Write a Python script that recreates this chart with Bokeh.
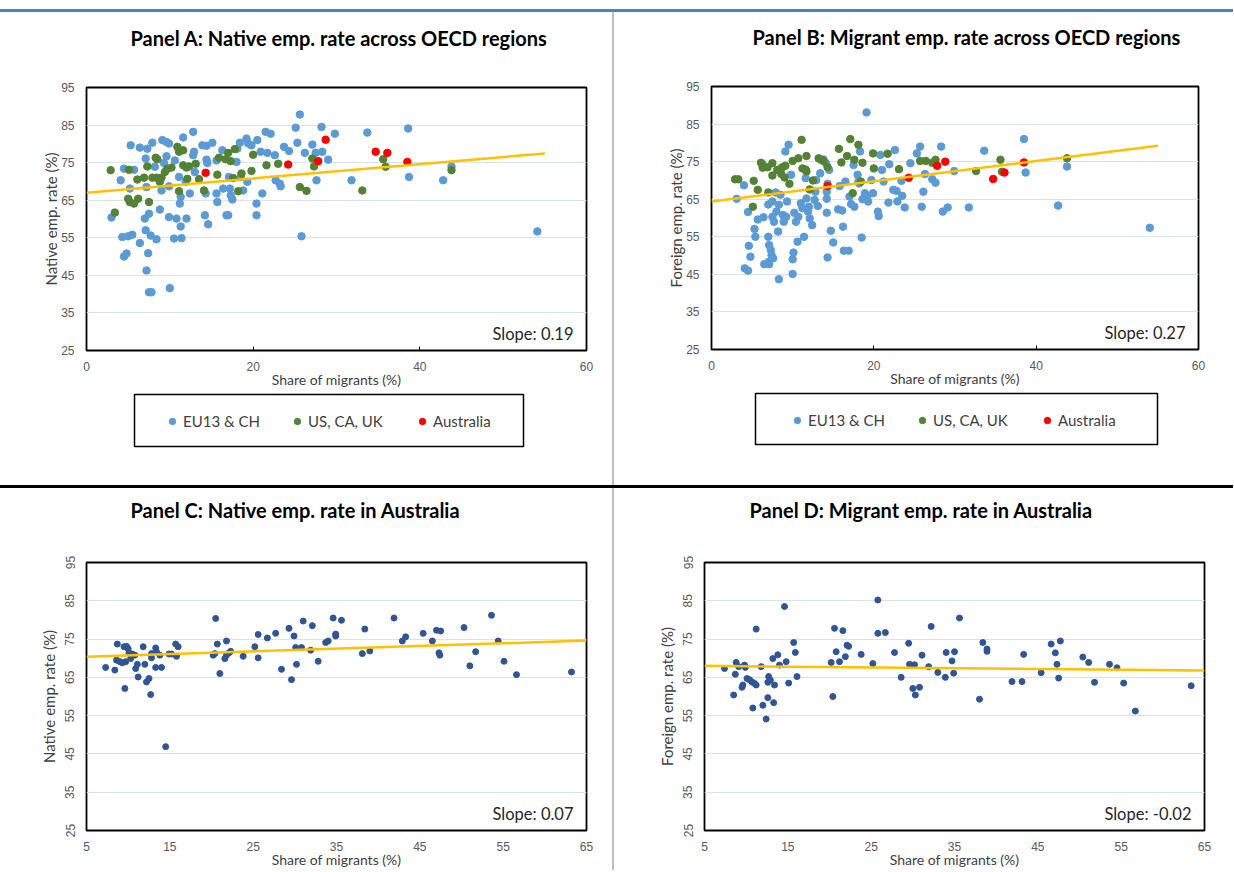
from bokeh.plotting import figure
from bokeh.models import Range1d, FixedTicker, Label, Legend, LegendItem, Div, Spacer, Title
from bokeh.layouts import column, row
from bokeh.embed import file_html
from bokeh.resources import INLINE

# ---------------- data ----------------
y_ticks = [25, 35, 45, 55, 65, 75, 85, 95]
x_ticks_oecd = [0, 20, 40, 60]
x_ticks_aus = [5, 15, 25, 35, 45, 55, 65]
legend_labels = ["EU13 & CH", "US, CA, UK", "Australia"]

# Panel A: native employment rate vs share of migrants (OECD regions)
a_eu_x = [3.0, 4.1, 4.5, 4.3, 5.0, 5.5, 4.5, 4.8, 5.3, 5.7, 5.2, 6.4, 6.4, 7.1, 7.3, 7.9, 7.2, 7.0, 7.5, 7.1,
          7.7, 8.4, 7.4, 7.2, 7.5, 7.8, 8.2, 9.1, 9.6, 9.9, 9.6, 9.3, 9.0, 8.8, 9.9, 10.8, 10.5, 11.4, 11.3, 10.0,
          9.9, 10.6, 11.1, 11.6, 11.2, 11.3, 12.0, 11.9, 12.4, 12.8, 12.9, 12.8, 13.0, 13.9, 14.4, 15.1, 14.4, 14.5, 14.3, 14.2,
          14.6, 15.6, 15.7, 15.6, 16.3, 16.4, 16.8, 17.0, 17.1, 17.2, 17.3, 17.5, 18.0, 18.1, 18.4, 19.2, 19.4, 19.8, 18.8, 19.3,
          18.5, 20.5, 20.4, 20.4, 21.1, 20.9, 21.7, 21.5, 22.1, 22.6, 22.7, 23.2, 23.3, 23.7, 24.3, 25.1, 25.3, 25.6, 25.8, 26.2,
          27.1, 27.6, 28.2, 28.3, 29.0, 29.8, 27.5, 33.7, 38.6, 31.8, 38.7, 42.8, 43.8, 54.1]
a_eu_y = [60.4, 70.3, 73.4, 55.2, 55.4, 55.8, 50.0, 50.8, 79.6, 73.1, 68.1, 53.6, 79.0, 76.1, 78.7, 80.3, 68.5, 60.1, 61.4, 57.0,
          55.6, 54.6, 50.9, 46.3, 40.5, 40.5, 73.9, 81.0, 80.5, 80.1, 76.7, 74.9, 67.6, 62.5, 60.5, 60.1, 54.8, 54.9, 58.0, 41.6,
          68.7, 75.6, 71.2, 81.7, 64.1, 65.9, 60.1, 69.9, 66.8, 83.2, 77.9, 77.0, 72.5, 79.6, 79.5, 80.3, 75.8, 74.9, 66.8, 61.0,
          58.6, 66.8, 64.5, 75.6, 78.3, 68.1, 61.0, 61.0, 71.2, 68.1, 66.3, 65.2, 75.2, 78.7, 80.3, 81.4, 80.1, 79.6, 67.6, 69.9,
          71.2, 81.0, 64.1, 61.0, 66.8, 77.9, 77.6, 83.2, 82.7, 77.0, 70.3, 69.4, 68.7, 79.2, 78.1, 84.3, 80.3, 87.8, 55.4, 77.6,
          79.8, 70.3, 84.5, 77.9, 75.8, 82.7, 77.6, 83.0, 84.1, 70.3, 71.2, 70.3, 74.0, 56.7]
a_us_x = [2.9, 3.4, 5.1, 5.0, 5.2, 5.7, 6.2, 6.1, 6.9, 7.3, 7.5, 7.9, 8.3, 8.5, 8.4, 8.8, 9.0, 9.4, 9.7, 10.2,
          10.9, 11.1, 11.6, 11.1, 11.6, 12.0, 12.3, 12.1, 13.1, 13.5, 14.1, 15.7, 15.9, 16.7, 17.0, 17.3, 17.8, 17.6, 18.2, 18.6,
          20.0, 19.8, 21.6, 23.0, 27.1, 27.3, 25.6, 26.4, 33.1, 35.6, 35.9, 43.8]
a_us_y = [73.0, 61.7, 73.1, 65.4, 64.5, 64.1, 65.4, 70.5, 71.0, 74.0, 64.5, 71.0, 76.3, 75.9, 71.0, 69.9, 71.0, 72.5, 73.4, 73.7,
          79.2, 77.9, 78.3, 67.4, 74.3, 73.7, 74.0, 70.7, 74.7, 70.6, 67.6, 71.8, 76.3, 75.9, 77.6, 75.4, 78.6, 70.9, 67.4, 72.1,
          77.1, 72.8, 74.3, 74.7, 76.1, 74.0, 68.5, 67.5, 67.6, 75.9, 73.9, 73.0]
a_au_x = [14.3, 24.2, 27.8, 28.7, 34.7, 36.1, 38.5]
a_au_y = [72.3, 74.5, 75.4, 81.1, 77.9, 77.6, 75.2]

# Panel B: migrant employment rate vs share of migrants (OECD regions)
b_eu_x = [3.1, 4.0, 4.5, 4.6, 4.8, 4.1, 4.5, 5.3, 5.4, 5.7, 6.3, 6.4, 6.5, 7.1, 7.1, 7.0, 7.1, 7.3, 7.4, 7.6,
          7.5, 7.7, 7.0, 7.5, 7.9, 8.0, 8.3, 8.2, 8.5, 8.3, 8.8, 8.9, 9.2, 9.3, 9.1, 9.5, 9.8, 10.0, 10.1, 10.0,
          10.2, 10.6, 10.4, 10.7, 11.0, 11.2, 11.4, 11.6, 11.7, 11.9, 12.0, 12.1, 12.4, 12.7, 12.8, 12.9, 13.1, 13.4, 13.8, 14.1,
          14.3, 14.2, 14.2, 14.2, 14.3, 14.5, 14.7, 15.0, 15.6, 15.8, 16.1, 16.2, 16.3, 16.5, 16.9, 17.0, 17.2, 17.5, 17.6, 18.0,
          18.1, 18.2, 18.3, 18.5, 18.6, 18.9, 19.1, 19.2, 19.3, 19.7, 19.9, 20.5, 20.6, 20.8, 21.0, 21.2, 21.8, 21.9, 22.4, 22.6,
          22.8, 22.9, 23.4, 23.5, 23.8, 24.5, 25.3, 25.7, 25.9, 26.1, 26.3, 27.2, 27.6, 28.3, 28.5, 29.1, 29.9, 31.7, 33.6, 38.5,
          38.7, 42.7, 43.8, 54.0]
b_eu_y = [65.1, 68.7, 61.6, 52.6, 49.7, 46.6, 46.0, 57.1, 55.0, 59.6, 74.3, 60.2, 47.7, 47.7, 48.4, 55.0, 52.8, 51.5, 50.1, 49.3,
          60.3, 59.0, 63.6, 64.4, 66.8, 61.7, 63.5, 56.4, 66.2, 43.7, 60.8, 59.0, 60.3, 64.4, 77.7, 79.5, 71.5, 49.0, 50.8, 45.1,
          61.4, 53.7, 59.0, 60.3, 63.9, 62.6, 55.0, 70.6, 65.2, 61.7, 63.0, 59.9, 58.1, 64.8, 67.0, 70.1, 63.2, 71.9, 75.6, 74.6,
          69.1, 67.0, 65.1, 61.4, 49.5, 72.8, 56.6, 53.5, 62.3, 68.5, 62.0, 57.7, 51.3, 69.7, 51.3, 65.7, 63.7, 74.1, 63.0, 71.5,
          69.7, 69.2, 77.7, 54.8, 65.0, 66.6, 88.1, 65.7, 64.4, 70.1, 66.6, 61.7, 60.5, 76.8, 72.8, 69.7, 64.1, 74.3, 67.5, 78.1,
          67.2, 64.4, 69.9, 65.9, 62.8, 74.6, 77.2, 79.0, 63.0, 67.0, 71.7, 70.3, 69.4, 79.0, 61.7, 62.8, 72.5, 62.8, 77.9, 81.0,
          72.1, 63.3, 73.7, 57.4]
b_us_x = [2.9, 3.3, 5.1, 5.2, 5.7, 6.1, 6.3, 6.9, 7.0, 7.5, 7.5, 8.1, 8.6, 8.7, 9.0, 9.1, 9.6, 10.0, 10.7, 11.1,
          11.2, 11.6, 11.7, 11.7, 12.1, 12.5, 13.2, 13.5, 13.8, 14.3, 15.7, 16.0, 16.7, 17.1, 17.4, 17.6, 18.1, 18.4, 18.6, 19.9,
          20.0, 21.7, 23.1, 25.7, 26.4, 27.2, 27.6, 32.6, 35.6, 35.8, 43.8]
b_us_y = [70.3, 70.3, 63.0, 69.9, 67.5, 74.7, 73.4, 73.5, 66.8, 74.6, 71.3, 72.8, 71.7, 73.5, 70.8, 73.9, 69.1, 75.2, 75.9, 80.8,
          73.2, 72.9, 72.4, 76.5, 67.6, 70.0, 75.9, 75.5, 75.2, 73.5, 78.4, 74.8, 76.5, 81.0, 66.6, 75.5, 79.5, 69.7, 74.7, 77.2,
          73.2, 77.1, 73.0, 75.2, 75.2, 74.7, 75.5, 72.5, 75.5, 72.3, 75.9]
b_au_x = [14.3, 24.3, 27.8, 28.8, 34.7, 36.1, 38.5]
b_au_y = [68.5, 70.7, 73.9, 75.0, 70.4, 72.1, 74.8]

# Panel C: native employment rate in Australian regions
c_x = [7.3, 8.4, 8.7, 8.6, 9.0, 9.3, 9.5, 9.8, 10.0, 9.6, 9.7, 10.1, 10.3, 10.5, 10.8, 10.9, 11.1, 11.2, 11.8, 12.0,
       12.2, 12.5, 12.7, 12.8, 12.8, 13.3, 13.4, 13.3, 14.0, 13.8, 14.5, 14.9, 15.2, 15.7, 16.0, 15.8, 20.5, 20.2, 20.4, 20.7,
       21.0, 21.6, 21.8, 21.8, 22.1, 22.3, 23.8, 25.2, 25.6, 25.6, 26.7, 27.7, 28.4, 29.3, 29.6, 29.9, 30.1, 30.2, 30.8, 31.0,
       31.9, 32.1, 32.8, 33.7, 34.0, 34.6, 34.9, 34.9, 35.6, 38.4, 38.1, 39.0, 41.9, 42.9, 43.3, 45.4, 46.5, 47.0, 47.5, 47.3,
       47.4, 50.3, 51.0, 51.7, 53.6, 54.4, 55.1, 56.6, 63.2]
c_y = [67.6, 66.9, 73.7, 69.5, 69.1, 68.8, 73.0, 73.1, 72.5, 62.1, 69.1, 71.4, 69.9, 71.1, 70.8, 67.3, 68.4, 65.1, 73.0, 68.4,
       63.8, 64.7, 60.5, 71.2, 70.1, 72.7, 71.7, 67.6, 67.6, 70.8, 46.9, 71.1, 71.1, 73.7, 73.0, 70.5, 80.4, 70.8, 71.2, 73.7,
       66.0, 69.9, 70.8, 74.5, 71.4, 71.8, 70.5, 73.0, 76.2, 70.1, 75.3, 76.5, 67.1, 77.8, 64.4, 75.8, 72.8, 68.4, 72.8, 79.7,
       72.1, 78.5, 69.2, 74.1, 74.5, 80.5, 76.3, 75.8, 79.9, 77.6, 71.2, 71.9, 80.5, 74.5, 75.6, 76.5, 74.5, 77.3, 77.1, 71.4,
       70.8, 78.0, 68.0, 71.7, 81.2, 74.5, 69.2, 65.7, 66.4]

# Panel D: migrant employment rate in Australian regions
d_x = [7.4, 8.5, 8.7, 8.8, 9.1, 9.5, 9.6, 9.8, 9.9, 10.1, 10.4, 10.7, 11.0, 11.2, 10.8, 11.2, 11.8, 12.0, 12.4, 12.6,
       12.7, 12.6, 12.9, 13.3, 13.4, 13.2, 13.8, 14.0, 14.6, 14.8, 15.1, 15.7, 15.9, 16.1, 20.2, 20.4, 20.6, 20.8, 21.2, 21.6,
       21.9, 22.1, 22.3, 23.8, 25.2, 25.8, 25.8, 26.7, 27.8, 28.6, 29.5, 29.6, 30.0, 30.2, 30.3, 30.8, 31.1, 31.9, 32.2, 33.0,
       33.9, 34.0, 34.7, 35.0, 34.9, 35.6, 38.0, 38.4, 38.9, 38.9, 41.9, 43.1, 43.3, 45.4, 46.6, 47.1, 47.3, 47.5, 47.7, 50.4,
       51.1, 51.8, 53.6, 54.5, 55.3, 56.7, 63.4]
d_y = [67.3, 60.4, 65.8, 68.9, 67.8, 62.4, 63.0, 68.2, 67.6, 64.7, 64.4, 63.8, 63.4, 63.0, 57.0, 77.6, 67.8, 57.7, 54.1, 59.7,
       65.2, 63.7, 64.3, 58.4, 63.0, 69.9, 70.9, 68.2, 83.5, 69.1, 63.5, 74.1, 71.5, 65.2, 68.9, 60.0, 77.8, 71.7, 69.1, 77.2,
       70.4, 73.4, 73.1, 71.0, 68.6, 76.5, 85.2, 76.7, 71.5, 65.0, 73.9, 68.4, 62.1, 68.3, 60.4, 62.4, 70.8, 67.8, 78.3, 66.3,
       65.0, 71.5, 69.3, 71.7, 66.1, 80.5, 59.3, 74.1, 72.4, 71.8, 63.9, 63.9, 71.0, 66.2, 73.7, 71.4, 68.4, 64.8, 74.5, 70.3,
       68.9, 63.7, 68.4, 67.5, 63.5, 56.2, 62.8]

# linear trends: (intercept, slope, x-span of the fitted line)
trend_a = (67.0, 0.19, [0, 55])
trend_b = (64.4, 0.27, [0, 55])
trend_c = (70.05, 0.07, [5, 65])
trend_d = (68.1, -0.02, [5, 65])

# ---------------- styling ----------------
C_EU = "#5b9bd5"
C_US = "#548235"
C_AU = "#ff0000"
C_AUS = "#2f5597"
C_TREND = "#ffc000"
TITLE_FONT = "Lato"
TEXT_FONT = "Lato"
TICK_FONT = "Liberation Sans"


def panel(title, title_offset, title_gap, ylabel, xr, xticks, fw, fh, bl, br, bt, bb, rotate_y, tick_in):
    p = figure(frame_width=fw, frame_height=fh, title=None,
               x_range=Range1d(*xr), y_range=Range1d(25, 95),
               min_border_left=bl, min_border_right=br, min_border_top=bt, min_border_bottom=bb,
               output_backend="svg", toolbar_location=None,
               background_fill_color="white", border_fill_color="white")
    # an empty gap panel between the frame and the heading, then the heading itself
    p.add_layout(Title(text=" ", text_font_size="1px", standoff=title_gap), "above")
    p.add_layout(Title(text=title, align="left", offset=title_offset, standoff=0,
                       text_font=TITLE_FONT, text_font_size="20px", text_font_style="bold",
                       text_color="#000000"), "above")
    p.outline_line_color = "#000000"
    p.outline_line_width = 1.8
    p.outline_line_alpha = 1.0
    p.xgrid.visible = False
    p.ygrid.grid_line_color = "#d9e2f0"
    p.ygrid.grid_line_width = 1
    p.xaxis.ticker = FixedTicker(ticks=xticks)
    p.yaxis.ticker = FixedTicker(ticks=y_ticks)
    for ax in (p.xaxis[0], p.yaxis[0]):
        ax.axis_line_color = None
        ax.minor_tick_line_color = None
        ax.major_tick_out = 0
        ax.major_label_text_font = TICK_FONT
        ax.major_label_text_font_size = "12px"
        ax.major_label_text_color = "#595959"
        ax.axis_label_text_font = TEXT_FONT
        ax.axis_label_text_font_style = "normal"
        ax.axis_label_text_color = "#404040"
    p.xaxis.axis_label_text_font_size = "14px"
    p.yaxis.axis_label_text_font_size = "15px"
    p.xaxis.major_tick_in = tick_in
    p.xaxis.major_tick_line_color = "#000000"
    p.yaxis.major_tick_in = 0
    p.yaxis.major_tick_line_color = None
    p.xaxis.axis_label = "Share of migrants (%)"
    p.xaxis.major_label_standoff = 11
    p.xaxis.axis_label_standoff = -3
    p.yaxis.axis_label = ylabel
    p.yaxis.major_label_standoff = 12
    p.yaxis.axis_label_standoff = -2
    if rotate_y:
        p.yaxis.major_label_orientation = "vertical"
        p.yaxis.major_label_standoff = 12
        p.yaxis.axis_label_standoff = 5
    return p


def add_trend(p, trend, fw):
    a, b, xs = trend
    p.line(x=xs, y=[a + b * x for x in xs], line_color=C_TREND, line_width=2.5)
    p.add_layout(Label(x=fw - 13, y=7, x_units="screen", y_units="screen",
                       text="Slope: %.2f" % b, text_align="right", text_baseline="bottom",
                       text_font=TEXT_FONT, text_font_size="16.5px", text_color="#262626"))


def legend_block(total_w, box_left, box_w, box_top, box_h, bottom, loc_x):
    lf = figure(frame_width=box_w, frame_height=box_h,
                min_border_left=2, min_border_right=total_w - box_left - box_w,
                min_border_top=box_top, min_border_bottom=bottom,
                x_range=Range1d(0, 1), y_range=Range1d(0, 1),
                x_axis_type=None, y_axis_type=None,
                output_backend="svg", toolbar_location=None,
                background_fill_color="white", border_fill_color="white")
    lf.grid.visible = False
    lf.outline_line_color = "#000000"
    lf.outline_line_width = 1.5
    items = []
    for lab, col in zip(legend_labels, [C_EU, C_US, C_AU]):
        r = lf.scatter(x=[float("nan")], y=[float("nan")], size=7, fill_color=col, line_color=col)
        items.append(LegendItem(label=lab, renderers=[r]))
    leg = Legend(items=items, orientation="horizontal", location=(loc_x, (box_h - 20) / 2),
                 padding=0, margin=0, border_line_color=None, background_fill_alpha=0,
                 glyph_width=16, glyph_height=16, label_standoff=3, label_width=80, spacing=26,
                 label_text_font=TEXT_FONT, label_text_font_size="15px", label_text_color="#404040")
    lf.add_layout(leg)
    return row(Spacer(width=box_left - 2, height=box_top + box_h + bottom), lf)


# Panel A
pA = panel("Panel A:  Native emp. rate across OECD regions", 44, 35, "Native emp. rate (%)",
           (0, 60), x_ticks_oecd, 500, 263, 86, 26, 75, 42, False, 4)
pA.scatter(a_eu_x, a_eu_y, size=7.5, fill_color=C_EU, line_color=C_EU)
pA.scatter(a_us_x, a_us_y, size=7.5, fill_color=C_US, line_color=C_US)
pA.scatter(a_au_x, a_au_y, size=7.5, fill_color=C_AU, line_color=C_AU)
add_trend(pA, trend_a, 500)
lA = legend_block(612, 134, 389, 2, 52, 39, 30)

# Panel B
pB = panel("Panel B: Migrant emp. rate across OECD regions", 41, 35, "Foreign emp. rate (%)",
           (0, 60), x_ticks_oecd, 487, 263, 97, 35, 74, 43, False, 4)
pB.scatter(b_eu_x, b_eu_y, size=7.5, fill_color=C_EU, line_color=C_EU)
pB.scatter(b_us_x, b_us_y, size=7.5, fill_color=C_US, line_color=C_US)
pB.scatter(b_au_x, b_au_y, size=7.5, fill_color=C_AU, line_color=C_AU)
add_trend(pB, trend_b, 487)
lB = legend_block(619, 141, 402, 1, 51, 41, 34)

# Panel C
pC = panel("Panel C:  Native emp. rate in Australia", 44, 38, "Native emp. rate (%)",
           (5, 65), x_ticks_aus, 500, 268, 86, 26, 73, 41, True, 0)
pC.scatter(c_x, c_y, size=6, fill_color=C_AUS, line_color=C_AUS)
add_trend(pC, trend_c, 500)

# Panel D
pD = panel("Panel D: Migrant emp. rate in Australia", 45, 38, "Foreign emp. rate (%)",
           (5, 65), x_ticks_aus, 500, 268, 90, 29, 74, 40, True, 0)
pD.scatter(d_x, d_y, size=6, fill_color=C_AUS, line_color=C_AUS)
add_trend(pD, trend_d, 500)

topgap = Spacer(width=1233, height=9)
topbar = Div(text="", width=1233, height=3, margin=0, styles={"background-color": "#4f81bd"})
vsep1 = Div(text="", width=2, height=473, margin=0, styles={"background-color": "#bfbfbf"})
hsep = Div(text="", width=1233, height=3, margin=0, styles={"background-color": "#000000"})
vsep2 = Div(text="", width=2, height=382, margin=0, styles={"background-color": "#bfbfbf"})

layout = column(topgap, topbar,
                row(column(pA, lA), vsep1, column(pB, lB)),
                hsep,
                row(pC, vsep2, pD))

open("out.html", "w").write(file_html(layout, INLINE))
